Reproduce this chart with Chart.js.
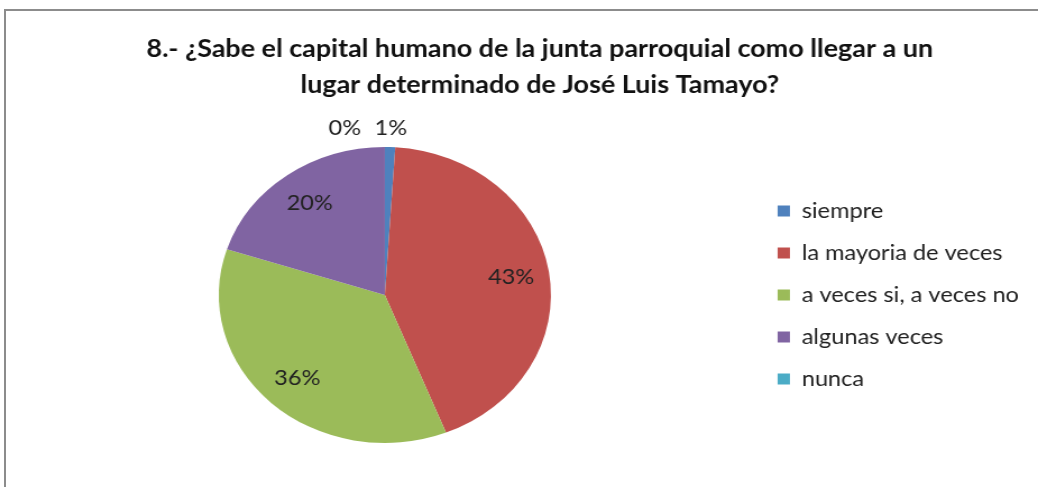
<!DOCTYPE html>
<html>
<head>
<meta charset="utf-8">
<script src="https://cdn.jsdelivr.net/npm/chart.js@4"></script>
<style>
  body { margin: 0; background: #fff; }
  #frame { position: absolute; left: 4px; top: 9px; width: 1100px; height: 500px;
           border-left: 2px solid #8c8c8c; border-top: 2px solid #8c8c8c; }
  #pieChart { position: absolute; left: 0; top: 0; }
</style>
</head>
<body>
<div id="frame"></div>
<canvas id="pieChart" width="925" height="487" style="width:1038px;height:487px"></canvas>
<script>
// Chart data
const titleLines = ["8.- ¿Sabe el capital humano de la junta parroquial como llegar a un",
                    "lugar determinado de José Luis Tamayo?"];
const labels = ["siempre", "la mayoria de veces", "a veces si, a veces no", "algunas veces", "nunca"];
const values = [1, 43, 36, 20, 0];
const colors = ["#4F81BD", "#C0504D", "#9BBB59", "#8064A2", "#4BACC6"];

Chart.defaults.font.family = "Lato";
Chart.defaults.color = "#222";

// title drawn by hand so it can sit off-centre like the original
const titlePlugin = {
    id: "titleLines",
    afterDraw(chart) {
        const ctx = chart.ctx;
        ctx.save();
        ctx.font = "bold 24px Lato";
        ctx.fillStyle = "#111";
        ctx.textAlign = "center";
        ctx.textBaseline = "middle";
        ctx.fillText(titleLines[0], 481, 49);
        ctx.fillText(titleLines[1], 481, 85);
        ctx.restore();
    }
};

// percent labels: inside the slice, or above the pie for tiny slices
const pctLabels = {
    id: "pctLabels",
    afterDatasetsDraw(chart) {
        const ctx = chart.ctx;
        const meta = chart.getDatasetMeta(0);
        ctx.save();
        ctx.font = "21px Lato";
        ctx.fillStyle = "#222";
        ctx.textAlign = "center";
        ctx.textBaseline = "middle";
        let lastSmallX = null;
        meta.data.forEach((arc, i) => {
            const v = values[i];
            const mid = (arc.startAngle + arc.endAngle) / 2;
            const text = v + "%";
            let x, y;
            if (v < 5) {
                const r = arc.outerRadius + 19;
                x = arc.x + Math.cos(mid) * r;
                y = arc.y + Math.sin(mid) * r;
                if (lastSmallX !== null && Math.abs(x - lastSmallX) < 40) x = lastSmallX - 41;
                lastSmallX = x;
            } else {
                const r = arc.outerRadius * 0.77;
                x = arc.x + Math.cos(mid) * r;
                y = arc.y + Math.sin(mid) * r;
            }
            ctx.fillText(text, x, y);
        });
        ctx.restore();
    }
};

const ctx = document.getElementById("pieChart").getContext("2d");
new Chart(ctx, {
    type: "pie",
    data: {
        labels: labels,
        datasets: [{
            data: values,
            backgroundColor: colors,
            borderWidth: 0
        }]
    },
    options: {
        responsive: false,
        devicePixelRatio: 1,
        animation: false,
        layout: { padding: { left: 14, top: 147, bottom: 44, right: 7 } },
        plugins: {
            title: { display: false },
            tooltip: { enabled: false },
            legend: {
                position: "right",
                labels: {
                    boxWidth: 11,
                    boxHeight: 11,
                    padding: 21,
                    font: { size: 21 },
                    color: "#222"
                }
            }
        }
    },
    plugins: [titlePlugin, pctLabels]
});
</script>
</body>
</html>
